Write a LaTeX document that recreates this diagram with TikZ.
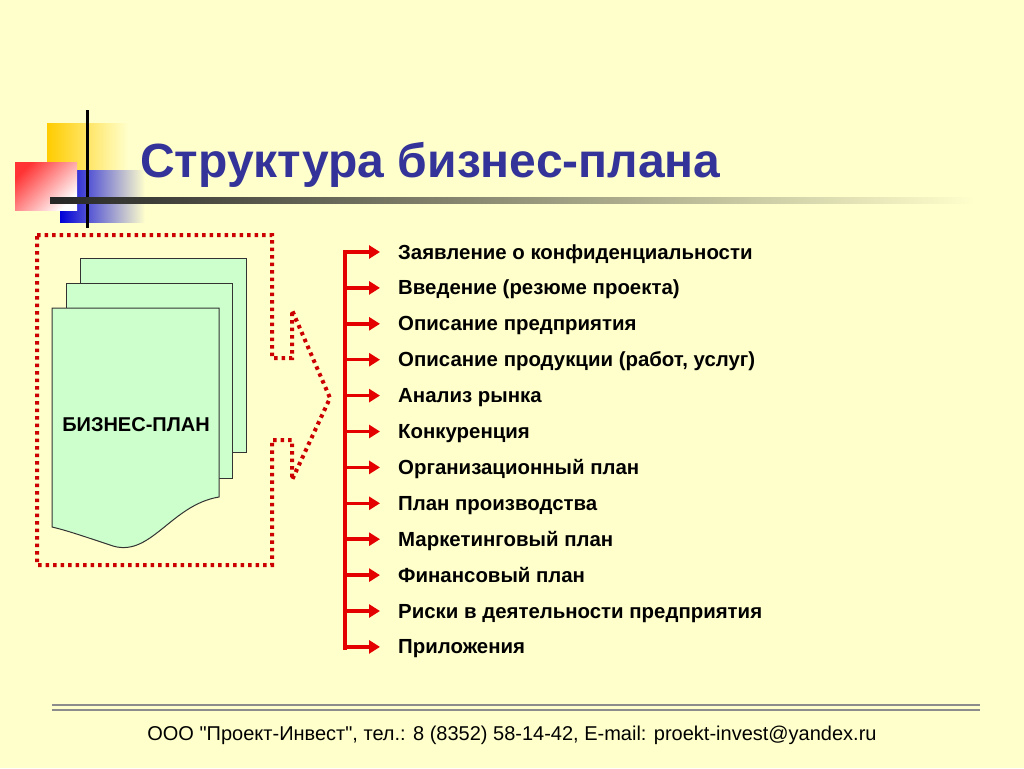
\documentclass[tikz,border=0pt]{standalone}
\usepackage{fontspec}
\setmainfont{Liberation Sans}
\newfontfamily\footfont{Liberation Sans}
\usetikzlibrary{arrows.meta}
\definecolor{ttl}{HTML}{333399}
\definecolor{bg}{HTML}{FFFFCC}
\definecolor{ylw}{HTML}{FFCC00}
\begin{document}
\begin{tikzpicture}[x=1pt,y=-1pt,
  item/.style={anchor=base west,font=\fontsize{20.4}{24}\selectfont\bfseries,inner sep=0},
  arr/.style={draw=red!90!black,line width=3.5pt,-{Triangle[length=11pt,width=13pt]}},
  page/.style={draw=black!80,fill=green!20!white,line width=1pt},
  dots/.style={draw=red!80!black,line width=4pt,dash pattern=on 3.5pt off 4pt}]
\fill[bg] (0,0) rectangle (1024,768);
\useasboundingbox (0,0) rectangle (1024,768);
% logo
\shade[left color=ylw, right color=bg] (47,123) rectangle (128,172);
\shade[left color=blue!85!black, right color=bg] (60,170) rectangle (145,222);
\shade[top color=red!80, bottom color=white, shading angle=45] (15,162) rectangle (77,210);
\draw[line width=3pt] (87,110) -- (87,228);
\shade[left color=black!85, right color=bg] (50,197.5) rectangle (975,203.5);
\node[anchor=base west,font=\fontsize{48}{56}\selectfont\bfseries,text=ttl,inner sep=0] (title) at (140,177) {Структура бизнес-плана};
% dotted frame
\draw[dots] (37,235) -- (272,235) -- (272,358) -- (292,358) -- (292,310) -- (330,398) -- (292,480) -- (292,440) -- (272,440) -- (272,565) -- (37,565) -- cycle;
% pages
\draw[page] (80,258) rectangle (246,452);
\draw[page] (66,283) rectangle (232,478);
\draw[page] (52,308) -- (219,308) -- (219,497) .. controls (170,505) and (150,560) .. (110,545) .. controls (80,535) and (65,530) .. (52,527) -- cycle;
\node[font=\fontsize{20}{24}\selectfont\bfseries] (bp) at (136,425) {БИЗНЕС-ПЛАН};
% bracket
\draw[red!90!black,line width=3.5pt] (345,250) coordinate (btop) -- (345,650) coordinate (bbot);
\foreach \t [count=\i] in {Заявление о конфиденциальности,Введение (резюме проекта),Описание предприятия,{Описание продукции (работ, услуг)},Анализ рынка,Конкуренция,Организационный план,План производства,Маркетинговый план,Финансовый план,Риски в деятельности предприятия,Приложения}{
  \node[item] (t\i) at (398,{259+(\i-1)*35.9}) {\t};
  \coordinate (s\i) at (344,{252+(\i-1)*35.9});
  \coordinate (e\i) at (380,{252+(\i-1)*35.9});
  \draw[arr] (s\i) -- (e\i);
}
% footer
\draw[black!45,line width=2pt] (52,705) -- (980,705);
\draw[black!45,line width=1.2pt] (52,710) -- (980,710);
\node[font=\footfont\fontsize{20}{24}\selectfont] (foot) at (512,735) {ООО "Проект-Инвест", тел.: 8 (8352) 58-14-42, E-mail: proekt-invest@yandex.ru};
\end{tikzpicture}
\end{document}
